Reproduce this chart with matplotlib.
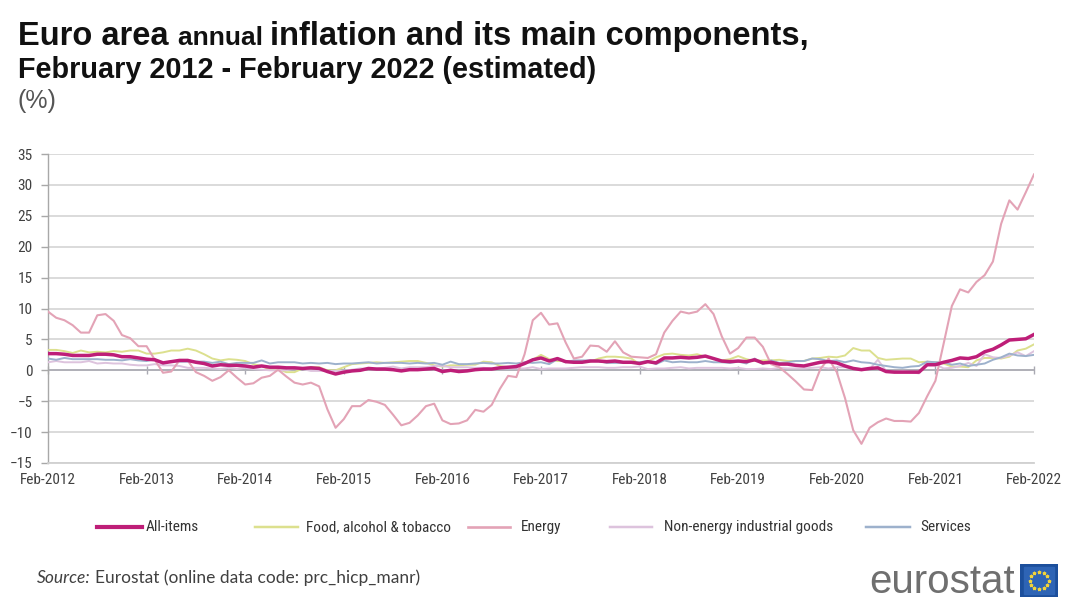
import numpy as np
import matplotlib
matplotlib.use("Agg")
import matplotlib.pyplot as plt
from matplotlib import font_manager
from matplotlib.lines import Line2D
from matplotlib.patches import Rectangle

# Euro area HICP annual rates of change (%), monthly, Feb 2012 - Feb 2022
all_items = [2.7, 2.7, 2.6, 2.4, 2.4, 2.4, 2.6, 2.6, 2.5, 2.2, 2.2,
             2.0, 1.8, 1.7, 1.2, 1.4, 1.6, 1.6, 1.3, 1.1, 0.7, 0.9, 0.8,
             0.8, 0.7, 0.5, 0.7, 0.5, 0.5, 0.4, 0.4, 0.3, 0.4, 0.3, -0.2,
             -0.6, -0.3, -0.1, 0.0, 0.3, 0.2, 0.2, 0.1, -0.1, 0.1, 0.1, 0.2,
             0.3, -0.2, 0.0, -0.2, -0.1, 0.1, 0.2, 0.2, 0.4, 0.5, 0.6, 1.1,
             1.7, 2.0, 1.5, 1.9, 1.4, 1.3, 1.3, 1.5, 1.5, 1.4, 1.5, 1.3,
             1.3, 1.1, 1.4, 1.2, 2.0, 2.0, 2.1, 2.0, 2.1, 2.3, 1.9, 1.5,
             1.4, 1.5, 1.4, 1.7, 1.2, 1.3, 1.0, 1.0, 0.8, 0.7, 1.0, 1.3,
             1.4, 1.2, 0.7, 0.3, 0.1, 0.3, 0.4, -0.2, -0.3, -0.3, -0.3, -0.3,
             0.9, 0.9, 1.3, 1.6, 2.0, 1.9, 2.2, 3.0, 3.4, 4.1, 4.9, 5.0,
             5.1, 5.8]

food_alcohol_tobacco = [3.3, 3.3, 3.1, 2.8, 3.2, 2.9, 3.0, 2.9, 3.1, 3.0, 3.2,
                        3.2, 2.7, 2.7, 2.9, 3.2, 3.2, 3.5, 3.2, 2.6, 1.9, 1.6, 1.8,
                        1.7, 1.5, 1.0, 0.7, 0.1, 0.2, -0.3, -0.3, 0.3, 0.5, 0.5, 0.0,
                        0.0, 0.5, 1.0, 1.1, 1.2, 1.3, 1.2, 1.3, 1.4, 1.5, 1.5, 1.2,
                        0.8, 0.6, 0.8, 0.8, 0.9, 0.9, 1.4, 1.3, 0.7, 0.5, 0.7, 1.2,
                        1.7, 2.5, 1.8, 1.5, 1.5, 1.3, 1.4, 1.4, 1.9, 2.2, 2.2, 2.1,
                        1.9, 1.0, 1.4, 2.1, 2.6, 2.7, 2.5, 2.4, 2.6, 2.2, 1.9, 1.6,
                        1.8, 2.3, 1.8, 1.5, 1.6, 1.6, 1.7, 1.5, 1.5, 1.5, 1.9, 2.0,
                        2.2, 2.1, 2.4, 3.6, 3.2, 3.2, 2.0, 1.7, 1.8, 1.9, 1.9, 1.3,
                        1.4, 1.3, 1.1, 0.6, 0.6, 0.5, 1.6, 2.0, 2.0, 1.9, 2.2, 3.2,
                        3.5, 4.2]

energy = [9.5, 8.5, 8.1, 7.3, 6.1, 6.1, 8.9, 9.1, 8.0, 5.7, 5.2,
          3.9, 3.9, 1.7, -0.4, -0.2, 1.6, 1.6, -0.3, -0.9, -1.7, -1.1, 0.0,
          -1.2, -2.3, -2.1, -1.2, -0.9, 0.1, -1.0, -2.0, -2.3, -2.0, -2.6, -6.3,
          -9.3, -7.9, -5.8, -5.8, -4.8, -5.1, -5.6, -7.2, -8.9, -8.5, -7.3, -5.8,
          -5.4, -8.1, -8.7, -8.6, -8.1, -6.4, -6.7, -5.6, -3.0, -0.9, -1.1, 2.6,
          8.1, 9.3, 7.4, 7.6, 4.5, 1.9, 2.2, 4.0, 3.9, 3.0, 4.7, 2.9,
          2.2, 2.1, 2.0, 2.6, 6.1, 8.0, 9.5, 9.2, 9.5, 10.7, 9.1, 5.5,
          2.7, 3.6, 5.3, 5.3, 3.8, 1.0, 0.5, -0.6, -1.8, -3.1, -3.2, 0.2,
          1.9, -0.3, -4.5, -9.7, -11.9, -9.3, -8.4, -7.8, -8.2, -8.2, -8.3, -6.9,
          -4.2, -1.7, 4.3, 10.4, 13.1, 12.6, 14.3, 15.4, 17.6, 23.7, 27.5, 26.0,
          28.8, 31.7]

non_energy_industrial_goods = [1.3, 1.5, 1.3, 1.3, 1.3, 1.5, 1.1, 1.2, 1.1, 1.1, 0.9,
                               0.8, 0.8, 1.0, 0.8, 0.8, 0.7, 0.4, 0.4, 0.4, 0.3, 0.2, 0.4,
                               0.2, 0.4, 0.2, 0.1, 0.0, 0.0, 0.0, 0.3, 0.2, -0.1, -0.1, -0.1,
                               -0.1, -0.1, 0.1, 0.3, 0.2, 0.3, 0.4, 0.6, 0.3, 0.5, 0.5, 0.5,
                               0.7, 0.7, 0.5, 0.5, 0.5, 0.4, 0.4, 0.3, 0.3, 0.3, 0.3, 0.3,
                               0.5, 0.2, 0.3, 0.3, 0.3, 0.4, 0.5, 0.5, 0.5, 0.4, 0.4, 0.5,
                               0.5, 0.6, 0.2, 0.3, 0.3, 0.4, 0.5, 0.3, 0.4, 0.4, 0.4, 0.4,
                               0.3, 0.4, 0.2, 0.2, 0.3, 0.2, 0.4, 0.3, 0.3, 0.3, 0.4, 0.5,
                               0.3, 0.5, 0.5, 0.3, 0.2, 0.2, 1.7, -0.1, -0.3, -0.1, -0.3, -0.5,
                               1.4, 1.0, 0.3, 0.4, 0.7, 1.2, 0.7, 2.6, 2.1, 2.0, 2.4, 2.9,
                               2.3, 3.1]

services = [1.9, 1.7, 2.0, 1.8, 1.8, 1.8, 1.8, 1.7, 1.7, 1.6, 1.8,
            1.6, 1.5, 1.8, 1.1, 1.5, 1.4, 1.4, 1.4, 1.4, 1.2, 1.4, 1.0,
            1.2, 1.2, 1.2, 1.6, 1.1, 1.3, 1.3, 1.3, 1.1, 1.2, 1.1, 1.2,
            1.0, 1.1, 1.1, 1.2, 1.3, 1.1, 1.2, 1.2, 1.2, 1.1, 1.2, 1.1,
            1.2, 0.9, 1.4, 1.0, 1.0, 1.1, 1.2, 1.1, 1.1, 1.2, 1.1, 1.3,
            1.2, 1.3, 1.0, 1.8, 1.3, 1.6, 1.6, 1.6, 1.5, 1.2, 1.2, 1.2,
            1.2, 1.3, 1.5, 1.0, 1.6, 1.3, 1.4, 1.3, 1.3, 1.5, 1.3, 1.3,
            1.2, 1.4, 1.1, 1.9, 1.0, 1.6, 1.2, 1.3, 1.5, 1.5, 1.9, 1.8,
            1.5, 1.6, 1.3, 1.6, 1.3, 1.2, 0.9, 0.7, 0.5, 0.4, 0.6, 0.7,
            1.4, 1.3, 1.3, 0.9, 1.1, 0.7, 0.9, 1.1, 1.7, 2.1, 2.7, 2.4,
            2.3, 2.5]

series_names = ["All-items", "Food, alcohol & tobacco", "Energy",
                "Non-energy industrial goods", "Services"]
tick_labels = ["Feb-2012", "Feb-2013", "Feb-2014", "Feb-2015", "Feb-2016",
               "Feb-2017", "Feb-2018", "Feb-2019", "Feb-2020", "Feb-2021",
               "Feb-2022"]
y_ticks = [-15, -10, -5, 0, 5, 10, 15, 20, 25, 30, 35]


def pick_font(*names):
    installed = {f.name for f in font_manager.fontManager.ttflist}
    for n in names:
        if n in installed:
            return n
    return "DejaVu Sans"


HEAD = pick_font("Liberation Sans", "Arial", "DejaVu Sans")
NARROW = pick_font("Liberation Sans Narrow", "Roboto Condensed", "Liberation Sans")
SOURCE = pick_font("Lato", "Open Sans", "Liberation Sans")

colors = {
    "All-items": "#BE1E78",
    "Food, alcohol & tobacco": "#DCE08E",
    "Energy": "#E3A3B6",
    "Non-energy industrial goods": "#DDC3DD",
    "Services": "#9DB1CC",
}
widths = {
    "All-items": 2.5,
    "Food, alcohol & tobacco": 1.4,
    "Energy": 1.5,
    "Non-energy industrial goods": 1.4,
    "Services": 1.4,
}
data = {
    "All-items": all_items,
    "Food, alcohol & tobacco": food_alcohol_tobacco,
    "Energy": energy,
    "Non-energy industrial goods": non_energy_industrial_goods,
    "Services": services,
}

W, H = 1065, 601
fig = plt.figure(figsize=(W / 100, H / 100), dpi=100)
fig.patch.set_facecolor("white")


def fx(px):
    return px / W


def fy(py):
    return 1 - py / H


ax = fig.add_axes([fx(48), fy(463), fx(1034) - fx(48), fy(154) - fy(463)])
months = np.arange(len(all_items))

# gridlines and zero line
ax.set_ylim(-15, 35)
ax.set_xlim(0, len(all_items) - 1)
ax.set_yticks(y_ticks)
ax.yaxis.grid(True, color="#DADADA", lw=1.4)
ax.set_axisbelow(True)
ax.axhline(0, color="#A9A9B2", lw=1.2, zorder=1)

for s in ["top", "right"]:
    ax.spines[s].set_visible(False)
ax.spines["left"].set_color("#A8A8A8")
ax.spines["left"].set_linewidth(1.0)
ax.spines["bottom"].set_color("#D0D0D0")
ax.spines["bottom"].set_linewidth(1.3)

ax.tick_params(axis="y", length=5, width=1, color="#A8A8A8", pad=6,
               labelsize=11, labelcolor="#404040")
for lab in ax.get_yticklabels():
    lab.set_fontfamily(NARROW)

year_pos = months[::12]
ax.set_xticks(year_pos)
ax.set_xticklabels(tick_labels, fontfamily=NARROW, fontsize=11, color="#404040")
ax.tick_params(axis="x", length=0, pad=7)

# year tick marks sitting on the zero line
sec = ax.secondary_xaxis(15 / 50)
sec.set_xticks(year_pos)
sec.set_xticklabels([])
sec.tick_params(axis="x", direction="inout", length=6, width=1, color="#A9A9B2")
sec.spines["bottom"].set_visible(False)

draw_order = ["Food, alcohol & tobacco", "Non-energy industrial goods", "Services",
              "Energy", "All-items"]
for name in draw_order:
    ax.plot(months, data[name], color=colors[name], lw=widths[name],
            solid_joinstyle="round", zorder=3 if name != "All-items" else 4)

# title block
renderer = fig.canvas.get_renderer()


def run_text(x_px, y_px, pieces):
    x = fx(x_px)
    for txt, size, weight in pieces:
        t = fig.text(x, fy(y_px), txt, fontsize=size, fontweight=weight,
                     fontfamily=HEAD, color="#111111", va="baseline", ha="left")
        bb = t.get_window_extent(renderer=renderer)
        x = bb.x1 / W
    return x


run_text(18, 45, [("Euro area ", 23.5, "bold"),
                  ("annual ", 19, "bold"),
                  ("inflation and its main components,", 23.5, "bold")])
fig.text(fx(18), fy(78), "February 2012 - February 2022 (estimated)",
         fontsize=20.8, fontweight="bold", fontfamily=HEAD, color="#111111",
         va="baseline", ha="left")
fig.text(fx(18), fy(108), "(%)", fontsize=18, fontfamily=HEAD, color="#555555",
         va="baseline", ha="left")

# legend row
legend_spots = [(97, 142, 146), (255, 298, 306), (468, 510, 521),
                (610, 652, 664), (866, 910, 920)]
for name, (x0, x1, xt) in zip(series_names, legend_spots):
    fig.add_artist(Line2D([fx(x0), fx(x1)], [fy(527), fy(527)], color=colors[name],
                          lw=widths[name] + (0.5 if name == "All-items" else 0.4)))
    fig.text(fx(xt), fy(527), name, fontsize=11, fontfamily=NARROW,
             color="#333333", va="center", ha="left")

# source note
t = fig.text(fx(37), fy(578), "Source:", fontsize=12.5, fontstyle="italic",
             fontfamily=SOURCE, color="#404040", va="center", ha="left")
bb = t.get_window_extent(renderer=renderer)
fig.text(bb.x1 / W + 0.004, fy(578), "Eurostat (online data code: prc_hicp_manr)",
         fontsize=12.5, fontfamily=SOURCE, color="#404040", va="center", ha="left")

# eurostat logo
fig.text(fx(1015), fy(593), "eurostat", fontsize=29, fontfamily=HEAD,
         color="#6F6F6F", va="baseline", ha="right")
flag = fig.add_axes([fx(1020), fy(597), fx(1058) - fx(1020), fy(564) - fy(597)])
flag.set_xlim(-1, 1)
flag.set_ylim(-1, 1)
flag.axis("off")
flag.add_patch(Rectangle((-1, -1), 2, 2, color="#1C4F9C"))
flag.add_patch(Rectangle((-0.8, -0.8), 1.6, 1.6, color="#2E64B5"))
ang = np.linspace(0, 2 * np.pi, 12, endpoint=False)
flag.scatter(0.5 * np.cos(ang), 0.5 * np.sin(ang), s=4, marker="*", color="#F2D33A")

fig.savefig("out.png", dpi=100, facecolor="white")
